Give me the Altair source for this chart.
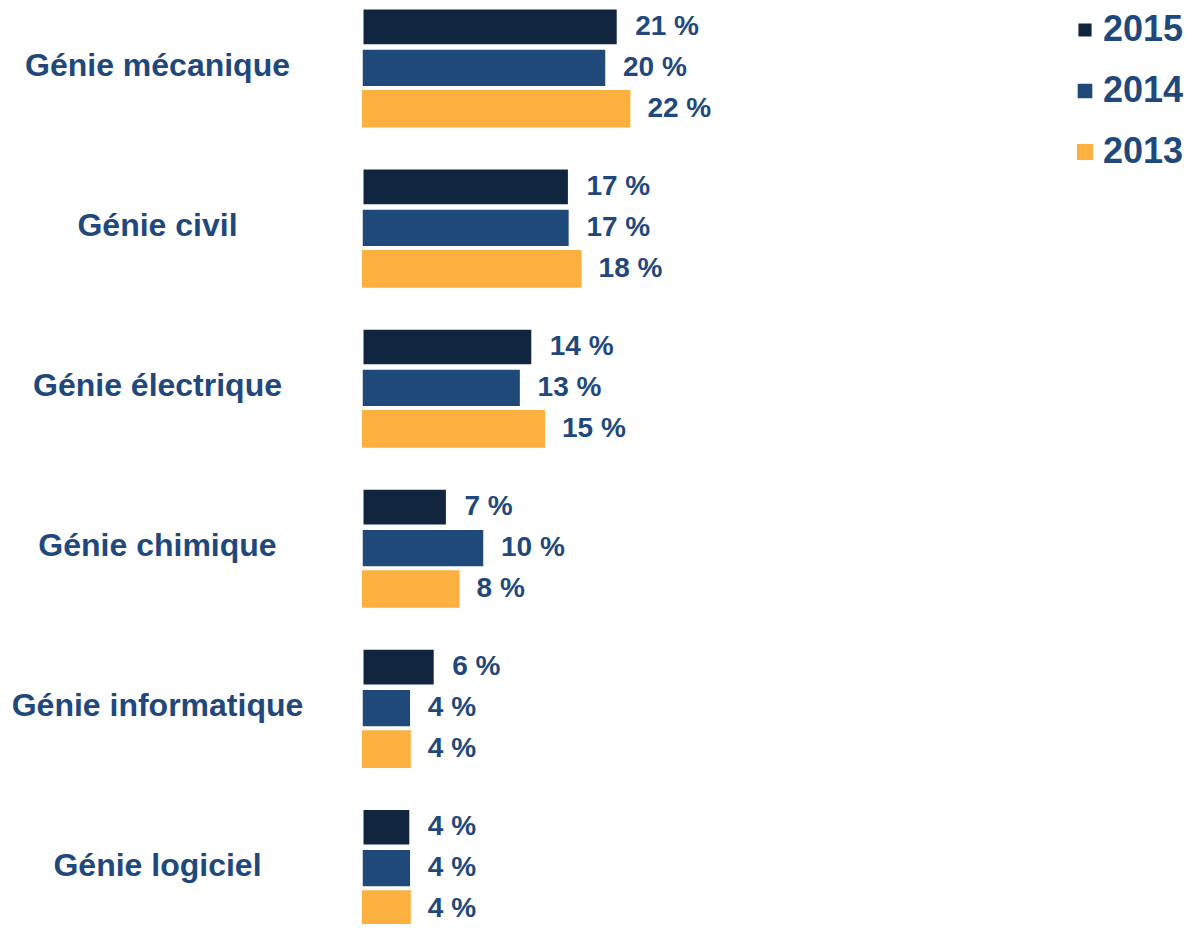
import altair as alt
import pandas as pd

categories = ["Génie mécanique", "Génie civil", "Génie électrique",
              "Génie chimique", "Génie informatique", "Génie logiciel"]
years = ["2015", "2014", "2013"]
v2015 = [21, 17, 14, 7, 6, 4]
v2014 = [20, 17, 13, 10, 4, 4]
v2013 = [22, 18, 15, 8, 4, 4]
colors = ["#12253f", "#1f4979", "#fbb040"]
text_color = "#1f497d"
font = "Liberation Sans"

rows = []
for year, vals in zip(years, [v2015, v2014, v2013]):
    for cat, v in zip(categories, vals):
        rows.append({"cat": cat, "year": year, "value": v, "label": f"{v} %"})
df = pd.DataFrame(rows)

y_enc = alt.Y("cat:N", sort=categories, title=None,
              scale=alt.Scale(paddingInner=0.253, paddingOuter=0, range=[0, 920]),
              axis=alt.Axis(domain=False, ticks=False, grid=False,
                            labelAlign="center", labelPadding=205,
                            labelFont=font, labelFontWeight="bold",
                            labelFontSize=32, labelColor=text_color,
                            labelLimit=0, labelBaseline="middle",
                            labelOffset=-2))
yoff = alt.YOffset("year:N", sort=years, scale=alt.Scale(paddingInner=0.08, paddingOuter=0))
x_enc = alt.X("value:Q", axis=None, scale=alt.Scale(domain=[0, 50], nice=False))

bars = alt.Chart(df).mark_bar(stroke="white").encode(
    y=y_enc,
    yOffset=yoff,
    x=x_enc,
    color=alt.Color("year:N", sort=years,
                    scale=alt.Scale(domain=years, range=colors),
                    legend=alt.Legend(title=None, orient="none", legendX=705, legendY=4,
                                      symbolType="square", symbolSize=260,
                                      symbolStrokeWidth=0, labelFont=font,
                                      labelFontWeight="bold", labelFontSize=36,
                                      labelColor=text_color, labelOffset=0,
                                      labelLimit=0,
                                      rowPadding=25, padding=0)),
    strokeWidth=alt.StrokeWidth("year:N", scale=alt.Scale(domain=years, range=[3, 0, 0]),
                                legend=None),
)

labels = alt.Chart(df).mark_text(align="left", baseline="middle", dx=17,
                                 font=font, fontWeight="bold", fontSize=28,
                                 color=text_color).encode(
    y=alt.Y("cat:N", sort=categories),
    yOffset=yoff,
    x=x_enc,
    text="label:N",
)

chart = alt.layer(bars, labels).properties(
    width=610, height=916,
    autosize=alt.AutoSizeParams(type="none"),
    padding={"left": 354, "top": 0, "right": 212, "bottom": 0},
).configure_view(stroke=None)

chart.save("out.html", embed_options={"renderer": "svg", "actions": False})
